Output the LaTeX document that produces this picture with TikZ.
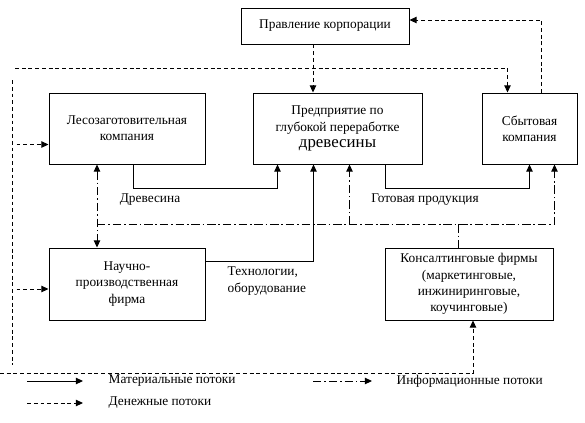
\documentclass[tikz,border=0pt]{standalone}
\usepackage{fontspec}
\setmainfont{Liberation Serif}
\usetikzlibrary{calc,arrows.meta}

\begin{document}
\begin{tikzpicture}[x=0.025cm,y=-0.025cm,
  box/.style={draw, line width=0.7pt, align=center, inner sep=2pt, font=\fontsize{9.5}{11.5}\selectfont},
  lbl/.style={font=\fontsize{9.5}{11.5}\selectfont, inner sep=1pt},
  tip/.style={-{Triangle[length=5pt,width=4.5pt]}},
  mat/.style={line width=0.7pt, tip},
  money/.style={line width=0.7pt, dash pattern=on 2.8pt off 2pt},
  info/.style={line width=0.7pt, dash pattern=on 6pt off 2pt on 1.2pt off 2pt},
]
  \def\pxl{0.025cm}
  \useasboundingbox (0,0) rectangle (585,422);

  % boxes
  \node[box, minimum width=168*\pxl, minimum height=36*\pxl] (board) at (325,26) {Правление корпорации};
  \node[box, minimum width=156*\pxl, minimum height=71*\pxl] (forest) at (127,128.5) {Лесозаготовительная\\компания};
  \node[box, minimum width=169*\pxl, minimum height=71*\pxl] (plant) at (337.5,128.5)
    {Предприятие по\\глубокой переработке\\{\fontsize{12}{14}\selectfont древесины}};
  \node[box, minimum width=95*\pxl, minimum height=71*\pxl] (sales) at (529.5,128.5) {Сбытовая\\компания};
  \node[box, minimum width=156*\pxl, minimum height=72*\pxl] (science) at (127,284) {Научно-\\производственная\\фирма};
  \node[box, minimum width=168*\pxl, minimum height=72*\pxl] (consult) at (469,284)
    {Консалтинговые фирмы\\(маркетинговые,\\инжиниринговые,\\коучинговые)};

  % money flows
  \coordinate (b1) at ($(board.south)+(-12,0)$);
  \draw[money, tip] (b1) -- (b1 |- plant.north);
  \draw[money, tip] ($(sales.north)+(12,0)$) |- ($(board.east)+(0,-6)$);
  \draw[money, tip] (15,68) -| ($(sales.north)+(-22,0)$);
  \draw[money] (12,80) -- (12,365);
  \draw[money, tip] ($(forest.west)+(-32,16)$) -- ($(forest.west)+(0,16)$);
  \draw[money, tip] ($(science.west)+(-32,5)$) -- ($(science.west)+(0,5)$);
  \draw[money, tip] (0,373) -| ($(consult.south)+(4,0)$);

  % material flows
  \draw[mat] ($(forest.south)+(6,0)$) -- ++(0,24) -| ($(plant.south)+(-60,0)$);
  \draw[mat] ($(plant.south)+(48,0)$) -- ++(0,24) -| (sales.south);
  \draw[mat] ($(science.east)+(0,-23)$) -| ($(plant.south)+(-24,0)$);
  \node[lbl] (wood) at (150,200) {Древесина};
  \node[lbl] (goods) at (425,200) {Готовая продукция};
  \node[lbl, anchor=west, align=left] (tech) at (226,281) {Технологии,\\оборудование};

  % information flows
  \coordinate (busL) at ($(forest.south)+(-30,60)$);
  \draw[info, tip] (busL) -| ($(sales.south)+(25,0)$);
  \draw[info, {Triangle[length=5pt,width=4.5pt]}-{Triangle[length=5pt,width=4.5pt]}]
    ($(forest.south)+(-30,0)$) -- ($(science.north)+(-30,0)$);
  \coordinate (p1) at ($(plant.south)+(12,0)$);
  \draw[info, tip] (p1 |- busL) -- (p1);
  \coordinate (c1) at ($(consult.north)+(-11,0)$);
  \draw[info] (c1 |- busL) -- (c1);

  % legend
  \node[lbl, anchor=west] (lgmat) at (107,381) {Материальные потоки};
  \node[lbl, anchor=west] (lgmoney) at (107,403) {Денежные потоки};
  \node[lbl, anchor=west] (lginfo) at (395,381) {Информационные потоки};
  \draw[mat] ($(lgmat.west)+(-80,0)$) -- ++(56,0);
  \draw[money, tip] ($(lgmoney.west)+(-80,0)$) -- ++(56,0);
  \draw[info, tip] ($(lginfo.west)+(-82,0)$) -- ++(59,0);
\end{tikzpicture}
\end{document}
